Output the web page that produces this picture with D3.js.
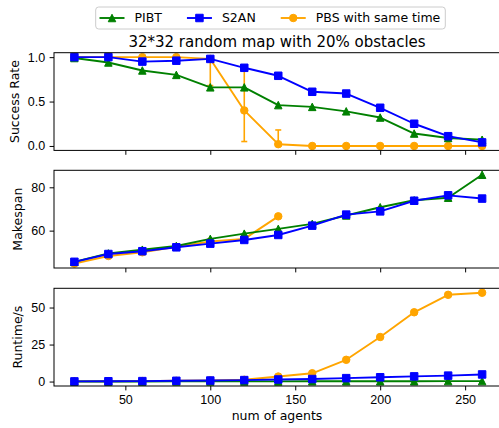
<!DOCTYPE html>
<html>
<head>
<meta charset="utf-8">
<script src="https://cdn.jsdelivr.net/npm/d3@7"></script>
<style>
  body { margin: 0; background: #fff; }
  svg { display: block; font-family: "DejaVu Sans", sans-serif; }
</style>
</head>
<body>
<div id="chart"></div>
<script>
// data
const agents = [20, 40, 60, 80, 100, 120, 140, 160, 180, 200, 220, 240, 260];
const seriesNames = ["PIBT", "S2AN", "PBS with same time"];

const successPIBT = [0.99, 0.94, 0.85, 0.80, 0.66, 0.66, 0.46, 0.44, 0.39, 0.32, 0.14, 0.09, 0.07];
const successS2AN = [1.00, 1.00, 0.95, 0.96, 0.98, 0.88, 0.79, 0.61, 0.59, 0.43, 0.25, 0.11, 0.04];
const successPBS  = [1.00, 1.00, 1.00, 1.00, 0.98, 0.40, 0.02, 0, 0, 0, 0, 0, 0];
const successPBSLow  = [1.00, 1.00, 1.00, 1.00, 0.68, 0.05, 0.00, 0, 0, 0, 0, 0, 0];
const successPBSHigh = [1.00, 1.00, 1.00, 1.00, 1.00, 0.86, 0.18, 0, 0, 0, 0, 0, 0];

const makespanPIBT = [45.6, 49.5, 51.2, 52.9, 56.2, 58.6, 60.8, 63.1, 67.0, 70.8, 74.0, 75.2, 85.8];
const makespanS2AN = [45.6, 49.2, 50.5, 52.3, 54.0, 55.7, 58.0, 62.3, 67.4, 68.9, 73.8, 76.3, 74.8];
const makespanPBS  = [44.8, 48.3, 50.0, 52.5, 55.0, 56.2, 66.6, null, null, null, null, null, null];

const runtimePIBT = [0.0, 0.0, 0.0, 0.1, 0.1, 0.1, 0.1, 0.2, 0.2, 0.2, 0.2, 0.3, 0.3];
const runtimeS2AN = [0.1, 0.2, 0.3, 0.5, 0.7, 1.0, 1.4, 1.7, 2.3, 2.9, 3.5, 4.0, 4.8];
const runtimePBS  = [0.1, 0.2, 0.3, 0.5, 0.8, 1.2, 3.4, 5.6, 14.7, 30.1, 46.8, 58.6, 60.0];

const xTicks = [50, 100, 150, 200, 250];
const successTicks = [0, 0.5, 1.0];
const makespanTicks = [60, 80];
const runtimeTicks = [0, 25, 50];

const titleText = "32*32 random map with 20% obstacles";
const xLabel = "num of agents";

// figure layout
const width = 499, height = 428;
const left = 54, right = 502.5;
const panelH = 97.7;
const fontSize = 12.5;
const tickLen = 4.4;
const lw = 1.9;
const ms = 7.5;

const colors = { PIBT: "#008000", S2AN: "#0000ff", PBS: "#ffa500" };

const svg = d3.select("#chart").append("svg")
  .attr("width", width)
  .attr("height", height);

// matplotlib-like 5% margins
function padded(lo, hi) {
  const m = (hi - lo) * 0.05;
  return [lo - m, hi + m];
}

const x = d3.scaleLinear()
  .domain(padded(d3.min(agents), d3.max(agents)))
  .range([left, right]);

// marker shapes
function markerPath(kind) {
  const h = ms / 2;
  if (kind === "triangle") return `M0,${-h}L${h},${h}L${-h},${h}Z`;
  if (kind === "square") return `M${-h},${-h}H${h}V${h}H${-h}Z`;
  return d3.symbol(d3.symbolCircle, Math.PI * h * h)();
}

function drawSeries(g, y, values, color, kind) {
  const pts = agents.map((a, i) => ({ a: a, v: values[i] })).filter(d => d.v != null);
  const line = d3.line().x(d => x(d.a)).y(d => y(d.v));
  g.append("path")
    .datum(pts)
    .attr("d", line)
    .attr("fill", "none")
    .attr("stroke", color)
    .attr("stroke-width", lw)
    .attr("stroke-linejoin", "round");
  g.selectAll(null)
    .data(pts)
    .enter()
    .append("path")
    .attr("d", markerPath(kind))
    .attr("transform", d => `translate(${x(d.a)},${y(d.v)})`)
    .attr("fill", color)
    .attr("stroke", color)
    .attr("stroke-width", 1);
}

function drawPanel(top, yLabel, labelX, ticks, fmt, series, errs, showX) {
  const allVals = [];
  series.forEach(s => s.values.forEach(v => { if (v != null) allVals.push(v); }));
  if (errs) { errs.low.forEach(v => allVals.push(v)); errs.high.forEach(v => allVals.push(v)); }
  const y = d3.scaleLinear()
    .domain(padded(d3.min(allVals), d3.max(allVals)))
    .range([top + panelH, top]);

  const g = svg.append("g");

  // error bars drawn first, under the lines
  if (errs) {
    const eb = g.append("g");
    agents.forEach((a, i) => {
      if (errs.high[i] - errs.low[i] <= 0) return;
      eb.append("line")
        .attr("x1", x(a)).attr("x2", x(a))
        .attr("y1", y(errs.low[i])).attr("y2", y(errs.high[i]))
        .attr("stroke", colors.PBS).attr("stroke-width", 1.6);
      [errs.low[i], errs.high[i]].forEach(v => {
        eb.append("line")
          .attr("x1", x(a) - 3).attr("x2", x(a) + 3)
          .attr("y1", y(v)).attr("y2", y(v))
          .attr("stroke", colors.PBS).attr("stroke-width", 1.6);
      });
    });
  }

  series.forEach(s => drawSeries(g, y, s.values, s.color, s.kind));

  // frame
  svg.append("rect")
    .attr("x", left).attr("y", top)
    .attr("width", right - left).attr("height", panelH)
    .attr("fill", "none").attr("stroke", "#000").attr("stroke-width", 1);

  const yAxis = svg.append("g")
    .attr("transform", `translate(${left},0)`)
    .call(d3.axisLeft(y).tickValues(ticks).tickFormat(fmt).tickSize(tickLen).tickPadding(4.4));
  yAxis.select(".domain").remove();
  yAxis.selectAll("text").style("font-size", fontSize + "px").attr("fill", "#000");

  const xAxis = svg.append("g")
    .attr("transform", `translate(0,${top + panelH})`)
    .call(d3.axisBottom(x).tickValues(xTicks).tickSize(tickLen).tickPadding(4.4)
      .tickFormat(showX ? d3.format("d") : ""));
  xAxis.select(".domain").remove();
  xAxis.selectAll("text").style("font-size", fontSize + "px").attr("fill", "#000");

  svg.append("text")
    .attr("transform", `translate(${labelX},${top + panelH / 2}) rotate(-90)`)
    .attr("text-anchor", "middle")
    .style("font-size", fontSize + "px")
    .text(yLabel);
}

const tops = [52.7, 170.3, 288.3];

drawPanel(tops[0], "Success Rate", 18.5, successTicks, d3.format(".1f"), [
  { values: successPBS, color: colors.PBS, kind: "circle" },
  { values: successPIBT, color: colors.PIBT, kind: "triangle" },
  { values: successS2AN, color: colors.S2AN, kind: "square" }
], { low: successPBSLow, high: successPBSHigh }, false);

drawPanel(tops[1], "Makespan", 22, makespanTicks, d3.format("d"), [
  { values: makespanPBS, color: colors.PBS, kind: "circle" },
  { values: makespanPIBT, color: colors.PIBT, kind: "triangle" },
  { values: makespanS2AN, color: colors.S2AN, kind: "square" }
], null, false);

drawPanel(tops[2], "Runtime/s", 22, runtimeTicks, d3.format("d"), [
  { values: runtimePBS, color: colors.PBS, kind: "circle" },
  { values: runtimePIBT, color: colors.PIBT, kind: "triangle" },
  { values: runtimeS2AN, color: colors.S2AN, kind: "square" }
], null, true);

// title and x label
svg.append("text")
  .attr("x", 277).attr("y", 47)
  .attr("text-anchor", "middle")
  .style("font-size", "15px")
  .text(titleText);

svg.append("text")
  .attr("x", 277).attr("y", 420)
  .attr("text-anchor", "middle")
  .style("font-size", fontSize + "px")
  .text(xLabel);

// legend
const legend = svg.append("g");
const legendBox = legend.append("rect")
  .attr("x", 95.7).attr("y", 7)
  .attr("height", 22)
  .attr("rx", 3)
  .attr("fill", "#fff").attr("fill-opacity", 0.8)
  .attr("stroke", "#cccccc").attr("stroke-width", 1);

const legendKinds = ["triangle", "square", "circle"];
const legendColors = [colors.PIBT, colors.S2AN, colors.PBS];
let lx = 99.5;
seriesNames.forEach((name, i) => {
  legend.append("line")
    .attr("x1", lx).attr("x2", lx + 25)
    .attr("y1", 18).attr("y2", 18)
    .attr("stroke", legendColors[i]).attr("stroke-width", lw);
  legend.append("path")
    .attr("d", markerPath(legendKinds[i]))
    .attr("transform", `translate(${lx + 12.5},18)`)
    .attr("fill", legendColors[i]).attr("stroke", legendColors[i]);
  const t = legend.append("text")
    .attr("x", lx + 35).attr("y", 18).attr("dy", "0.35em")
    .style("font-size", fontSize + "px")
    .text(name);
  lx = lx + 35 + t.node().getComputedTextLength() + 25;
});
legendBox.attr("width", lx - 25 + 5 - 95.7);
</script>
</body>
</html>
